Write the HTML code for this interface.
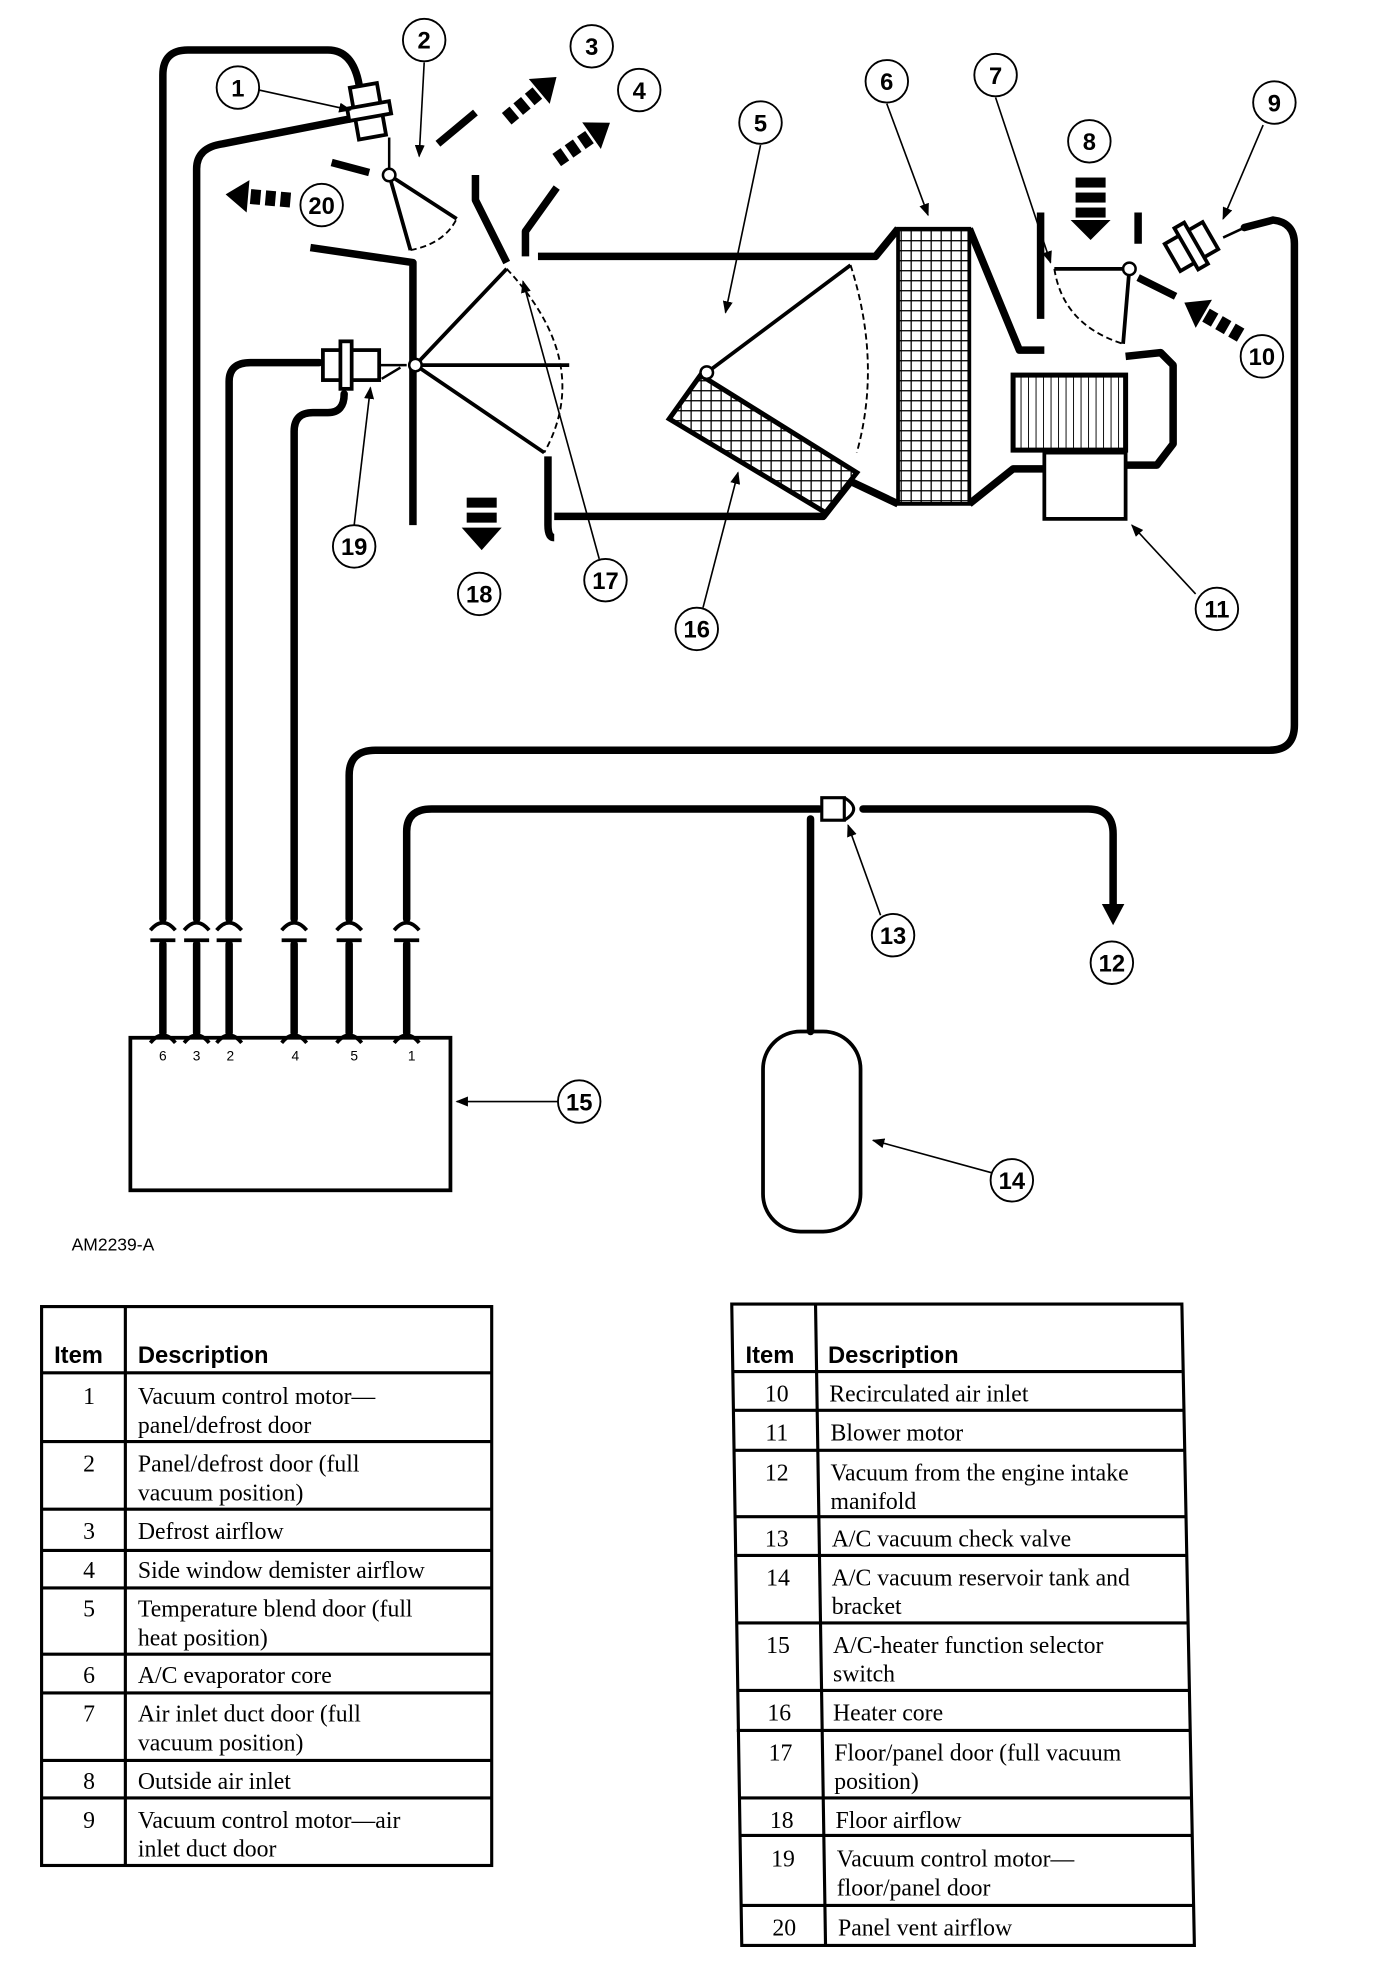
<!DOCTYPE html>
<html><head><meta charset="utf-8"><style>
html,body{margin:0;padding:0;background:#fff}
svg{display:block}
.s{font-family:"Liberation Sans",sans-serif}
.r{font-family:"Liberation Serif",serif;font-size:19px}
</style></head><body>
<svg width="1376" height="1968" viewBox="0 0 1100 1574" xmlns="http://www.w3.org/2000/svg">
<defs>
<pattern id="g" width="8" height="8" patternUnits="userSpaceOnUse"><rect width="8" height="8" fill="#fff"/><path d="M0 0H8M0 0V8" stroke="#000" stroke-width="2"/></pattern>
<pattern id="v" width="6" height="60" patternUnits="userSpaceOnUse"><rect width="6" height="60" fill="#fff"/><path d="M0 0V60" stroke="#000" stroke-width="1.5"/></pattern>
<marker id="ah" markerWidth="10" markerHeight="8" refX="9" refY="4" orient="auto" markerUnits="userSpaceOnUse"><path d="M0 0L10 4L0 8z"/></marker>
</defs>
<g fill="none" stroke="#000" stroke-width="6" stroke-linecap="round" stroke-linejoin="round">
<path d="M130 735V60Q130 40 150 40H262Q282 40 287 68"/>
<path d="M157 735V135Q157 118 178 115L280 95"/>
<path d="M183 735V305Q183 290 200 290H255"/>
<path d="M235 735V345Q235 330 250 330H262Q275 330 275 315"/>
<path d="M279 735V620Q279 600 300 600H1015Q1035 600 1035 580V195Q1035 178 1018 176L995 182"/>
<path d="M325 735V665Q325 647 345 647H655"/>
<path d="M690 647H870Q890 647 890 667V725"/>
<path d="M648 655V825"/>
<path d="M130 755V826M157 755V826M183 755V826M235 755V826M279 755V826M325 755V826"/>
</g>
<path d="M881 723L899 723L890 740z"/>
<g fill="none" stroke="#000" stroke-width="3">
<path d="M120 744Q130 732 140 744M120 752H140M147 744Q157 732 167 744M147 752H167M173 744Q183 732 193 744M173 752H193M225 744Q235 732 245 744M225 752H245M269 744Q279 732 289 744M269 752H289M315 744Q325 732 335 744M315 752H335"/>
<path d="M120 834Q130 822 140 834M147 834Q157 822 167 834M173 834Q183 822 193 834M225 834Q235 822 245 834M269 834Q279 822 289 834M315 834Q325 822 335 834"/>
</g>
<rect x="104" y="830" width="256" height="122" fill="none" stroke="#000" stroke-width="3"/>
<g class="s" font-size="11" text-anchor="middle"><text x="130" y="848">6</text><text x="157" y="848">3</text><text x="184" y="848">2</text><text x="236" y="848">4</text><text x="283" y="848">5</text><text x="329" y="848">1</text></g>
<rect x="610" y="825" width="78" height="160" rx="30" fill="none" stroke="#000" stroke-width="3"/>
<rect x="657" y="638" width="18" height="18" fill="#fff" stroke="#000" stroke-width="2.5"/>
<path d="M675 638Q690 647 675 656" fill="none" stroke="#000" stroke-width="2.5"/>
<g fill="none" stroke="#000" stroke-width="6" stroke-linejoin="round">
<path d="M430 205H700L718 183"/>
<path d="M775 183L815 280H835"/>
<path d="M443 413H658L680 385L718 403"/>
<path d="M775 403L810 375H835"/>
<path d="M900 285L928 282L938 292V355L925 372H900"/>
<path d="M405 210L380 160L380 140M420 205V185L445 150"/>
<path d="M350 115L380 90"/>
<path d="M248 198L330 210V420"/>
<path d="M438 365V420Q438 430 443 430"/>
<path d="M265 130L295 138"/>
<path d="M832 170V255M910 170V195M910 222L940 237"/>
</g>
<path d="M718 183H775V403H718z" fill="url(#g)" stroke="#000" stroke-width="3"/>
<rect x="810" y="300" width="90" height="60" fill="url(#v)" stroke="#000" stroke-width="4"/>
<rect x="835" y="362" width="65" height="53" fill="#fff" stroke="#000" stroke-width="3"/>
<path d="M560 300L685 378L660 410L535 335z" fill="url(#g)" stroke="#000" stroke-width="4"/>
<g fill="none" stroke="#000" stroke-width="3">
<path d="M565 298L680 212"/>
<path d="M680 212Q705 290 685 362" stroke-dasharray="5 3" stroke-width="1.5"/>
<path d="M332 292L405 215M332 292L435 362M332 292H455"/>
<path d="M405 215Q475 290 435 362" stroke-dasharray="5 3" stroke-width="1.5"/>
<path d="M311 140L365 175M311 140L328 200"/>
<path d="M328 200Q355 195 365 175" stroke-dasharray="5 3" stroke-width="1.5"/>
<path d="M903 215H843M903 215L898 275"/>
<path d="M843 215Q850 260 898 275" stroke-dasharray="5 3" stroke-width="1.5"/>
</g>
<circle cx="565" cy="298" r="5" fill="#fff" stroke="#000" stroke-width="2"/>
<circle cx="332" cy="292" r="5" fill="#fff" stroke="#000" stroke-width="2"/>
<circle cx="311" cy="140" r="5" fill="#fff" stroke="#000" stroke-width="2"/>
<circle cx="903" cy="215" r="5" fill="#fff" stroke="#000" stroke-width="2"/>
<g fill="#fff" stroke="#000" stroke-width="3">
<rect x="283" y="68" width="22" height="42" transform="rotate(-10 294 89)"/>
<rect x="278" y="84" width="34" height="10" transform="rotate(-10 294 89)"/>
<rect x="258" y="280" width="45" height="24"/><rect x="272" y="273" width="9" height="38"/>
<rect x="935" y="185" width="35" height="25" transform="rotate(-30 952 197)"/><rect x="948" y="178" width="9" height="38" transform="rotate(-30 952 197)"/>
</g>
<path d="M305 303L320 294M303 292H325M311 110L311 135M978 190L993 183" stroke="#000" stroke-width="2"/>
<g fill="#000">
<g transform="translate(405,95) rotate(-40)"><rect x="0" y="-6" width="8" height="12"/><rect x="12" y="-6" width="8" height="12"/><rect x="24" y="-6" width="8" height="12"/><path d="M34 -13L52 0L34 13z"/></g>
<g transform="translate(445,128) rotate(-35)"><rect x="0" y="-6" width="8" height="12"/><rect x="12" y="-6" width="8" height="12"/><rect x="24" y="-6" width="8" height="12"/><path d="M34 -13L52 0L34 13z"/></g>
<g transform="translate(232,160) rotate(185)"><rect x="0" y="-6" width="8" height="12"/><rect x="12" y="-6" width="8" height="12"/><rect x="24" y="-6" width="8" height="12"/><path d="M34 -13L52 0L34 13z"/></g>
<g transform="translate(385,398) rotate(90)"><rect x="0" y="-12" width="8" height="24"/><rect x="12" y="-12" width="8" height="24"/><path d="M24 -16L42 0L24 16z"/></g>
<g transform="translate(872,142) rotate(90)"><rect x="0" y="-12" width="8" height="24"/><rect x="12" y="-12" width="8" height="24"/><rect x="24" y="-12" width="8" height="24"/><path d="M34 -16L50 0L34 16z"/></g>
<g transform="translate(992,268) rotate(210)"><rect x="0" y="-6" width="8" height="12"/><rect x="12" y="-6" width="8" height="12"/><rect x="24" y="-6" width="8" height="12"/><path d="M34 -13L52 0L34 13z"/></g>
</g>
<g stroke="#000" stroke-width="1.3" fill="none" marker-end="url(#ah)">
<path d="M207 72L280 88"/><path d="M339 50L335 125"/><path d="M608 116L580 250"/><path d="M709 83L742 172"/>
<path d="M796 78L840 210"/><path d="M1010 100L978 175"/><path d="M956 475L905 420"/><path d="M704 732L678 660"/>
<path d="M793 938L698 912"/><path d="M446 881L365 881"/><path d="M562 486L590 378"/><path d="M479 447L418 225"/><path d="M283 420L296 310"/>
</g>
<g class="s" font-size="19" font-weight="bold" text-anchor="middle">
<g fill="#fff" stroke="#000" stroke-width="1.5">
<circle cx="190" cy="70" r="17"/><circle cx="339" cy="32" r="17"/><circle cx="473" cy="37" r="17"/><circle cx="511" cy="72" r="17"/><circle cx="608" cy="98" r="17"/><circle cx="709" cy="65" r="17"/><circle cx="796" cy="60" r="17"/><circle cx="871" cy="113" r="17"/><circle cx="1019" cy="82" r="17"/><circle cx="1009" cy="285" r="17"/><circle cx="973" cy="487" r="17"/><circle cx="889" cy="770" r="17"/><circle cx="714" cy="748" r="17"/><circle cx="809" cy="944" r="17"/><circle cx="463" cy="881" r="17"/><circle cx="557" cy="503" r="17"/><circle cx="484" cy="464" r="17"/><circle cx="383" cy="475" r="17"/><circle cx="283" cy="437" r="17"/><circle cx="257" cy="164" r="17"/>
</g>
<text x="190" y="77">1</text><text x="339" y="39">2</text><text x="473" y="44">3</text><text x="511" y="79">4</text><text x="608" y="105">5</text><text x="709" y="72">6</text><text x="796" y="67">7</text><text x="871" y="120">8</text><text x="1019" y="89">9</text><text x="1009" y="292">10</text><text x="973" y="494">11</text><text x="889" y="777">12</text><text x="714" y="755">13</text><text x="809" y="951">14</text><text x="463" y="888">15</text><text x="557" y="510">16</text><text x="484" y="471">17</text><text x="383" y="482">18</text><text x="283" y="444">19</text><text x="257" y="171">20</text>
</g>
<text x="57" y="1000" class="s" font-size="14">AM2239-A</text>
<g stroke="#000" stroke-width="2.5" fill="none">
<rect x="33" y="1045" width="360" height="447"/>
<path d="M100 1045V1492M33 1098H393M33 1153H393M33 1207H393M33 1240H393M33 1270H393M33 1323H393M33 1354H393M33 1408H393M33 1438H393"/>
</g>
<g class="s" font-size="19" font-weight="bold"><text x="43" y="1090">Item</text><text x="110" y="1090">Description</text></g>
<g class="r">
<g text-anchor="middle"><text x="71" y="1123">1</text><text x="71" y="1177">2</text><text x="71" y="1231">3</text><text x="71" y="1262">4</text><text x="71" y="1293">5</text><text x="71" y="1346">6</text><text x="71" y="1377">7</text><text x="71" y="1431">8</text><text x="71" y="1462">9</text></g>
<text x="110" y="1123">Vacuum control motor—</text><text x="110" y="1146">panel/defrost door</text>
<text x="110" y="1177">Panel/defrost door (full</text><text x="110" y="1200">vacuum position)</text>
<text x="110" y="1231">Defrost airflow</text><text x="110" y="1262">Side window demister airflow</text>
<text x="110" y="1293">Temperature blend door (full</text><text x="110" y="1316">heat position)</text>
<text x="110" y="1346">A/C evaporator core</text>
<text x="110" y="1377">Air inlet duct door (full</text><text x="110" y="1400">vacuum position)</text>
<text x="110" y="1431">Outside air inlet</text>
<text x="110" y="1462">Vacuum control motor—air</text><text x="110" y="1485">inlet duct door</text>
</g>
<g stroke="#000" stroke-width="2.5" fill="none">
<path d="M585 1043H945L955 1556H593L585 1043z"/>
<path d="M652 1043L660 1556"/>
<path d="M585 1097H945M586 1128H947M586 1160H947M587 1213H949M587 1244H949M588 1298H950M589 1352H951M589 1384H951M590 1438H952M591 1468H953M592 1524H954"/>
</g>
<g class="s" font-size="19" font-weight="bold"><text x="596" y="1090">Item</text><text x="662" y="1090">Description</text></g>
<g class="r">
<g text-anchor="middle"><text x="621" y="1121">10</text><text x="621" y="1152">11</text><text x="621" y="1184">12</text><text x="621" y="1237">13</text><text x="622" y="1268">14</text><text x="622" y="1322">15</text><text x="623" y="1376">16</text><text x="624" y="1408">17</text><text x="625" y="1462">18</text><text x="626" y="1493">19</text><text x="627" y="1548">20</text></g>
<text x="663" y="1121">Recirculated air inlet</text><text x="664" y="1152">Blower motor</text>
<text x="664" y="1184">Vacuum from the engine intake</text><text x="664" y="1207">manifold</text>
<text x="665" y="1237">A/C vacuum check valve</text>
<text x="665" y="1268">A/C vacuum reservoir tank and</text><text x="665" y="1291">bracket</text>
<text x="666" y="1322">A/C-heater function selector</text><text x="666" y="1345">switch</text>
<text x="666" y="1376">Heater core</text>
<text x="667" y="1408">Floor/panel door (full vacuum</text><text x="667" y="1431">position)</text>
<text x="668" y="1462">Floor airflow</text>
<text x="669" y="1493">Vacuum control motor—</text><text x="669" y="1516">floor/panel door</text>
<text x="670" y="1548">Panel vent airflow</text>
</g>
</svg>
</body></html>
